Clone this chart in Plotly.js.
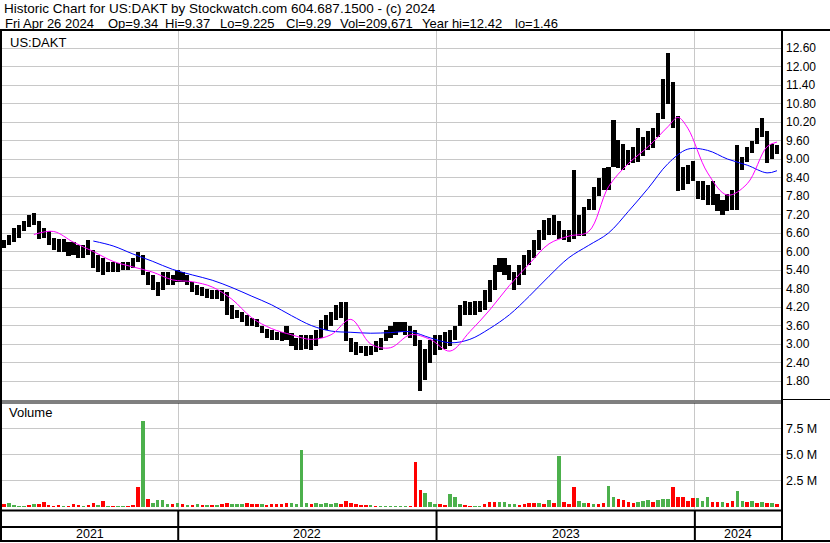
<!DOCTYPE html>
<html><head><meta charset="utf-8">
<script src="https://cdn.plot.ly/plotly-3.0.1.min.js"></script>
<style>html,body{margin:0;padding:0;background:#fff;overflow:hidden}#chart{width:830px;height:543px}</style>
</head><body><div id="chart"></div>
<script>
// ---- data (weekly samples, first week ending 2021-04-30) ----
const firstWeek = '2021-04-30';
const highs = [6.37,6.55,6.75,6.85,7.0,7.2,7.25,7.0,6.75,6.65,
6.45,6.4,6.4,6.3,6.3,6.2,6.2,6.37,6.05,5.9,
5.8,5.65,5.65,5.62,5.65,5.65,5.8,6.0,5.9,5.35,
5.25,5.0,5.35,5.35,5.25,5.4,5.35,5.25,5.0,4.9,
4.85,4.8,4.75,4.75,4.75,4.7,4.25,4.1,4.05,3.95,
3.85,3.8,3.6,3.5,3.45,3.4,3.4,3.6,3.35,3.2,
3.3,3.3,3.3,3.45,3.78,3.95,4.05,4.25,4.35,4.35,
3.2,3.05,2.95,2.95,2.95,3.1,3.2,3.45,3.6,3.7,
3.7,3.7,3.6,3.45,3.13,2.85,3.13,3.3,3.3,3.4,
3.45,3.6,4.25,4.4,4.35,4.4,4.4,4.75,5.08,5.55,
5.8,5.8,5.55,5.35,5.55,5.9,6.05,6.37,6.7,7.02,
7.1,7.2,7.0,6.7,6.7,8.64,7.2,7.45,7.7,8.1,
8.4,8.7,8.74,10.27,9.62,9.5,9.3,9.4,10.0,9.7,
9.9,10.0,10.5,11.6,12.44,11.5,10.4,8.75,8.8,8.95,
8.3,8.3,8.15,8.3,7.85,7.67,7.85,8.0,9.45,9.07,
9.4,9.6,10.0,10.33,9.9,9.5,9.45];
const lows = [6.1,6.2,6.3,6.45,6.65,6.8,6.85,6.4,6.45,6.2,
6.05,6.0,6.0,5.85,5.9,5.8,5.8,5.9,5.45,5.35,
5.25,5.35,5.35,5.35,5.4,5.4,5.45,5.65,5.25,4.9,
4.75,4.55,4.75,4.9,4.9,5.0,5.0,4.9,4.7,4.6,
4.55,4.5,4.45,4.45,4.4,3.95,3.8,3.85,3.7,3.6,
3.6,3.55,3.35,3.2,3.13,3.13,3.1,3.13,2.95,2.8,
2.8,2.85,2.8,2.95,3.2,3.45,3.6,3.78,3.85,3.1,
2.75,2.65,2.7,2.6,2.65,2.75,2.8,3.1,3.2,3.3,
3.4,3.3,3.2,2.95,1.46,1.83,2.4,2.65,2.8,2.85,
2.95,3.13,3.6,3.95,3.95,3.95,4.05,4.1,4.35,4.75,
5.35,5.25,5.08,4.75,4.9,5.25,5.55,5.8,6.05,6.37,
6.55,6.55,6.4,6.37,6.3,6.4,6.5,6.5,7.35,7.35,
7.8,8.0,8.0,8.74,8.7,8.64,8.8,8.87,8.9,9.1,
9.3,9.35,9.7,10.3,10.8,10.0,7.95,8.0,8.2,8.3,
7.7,7.67,7.5,7.5,7.3,7.2,7.3,7.35,7.35,8.65,
8.9,9.2,9.5,9.7,8.87,9.0,9.15];
// weekly volume, millions of shares
const volumes = [0.3,0.4,0.15,0.1,0.1,0.15,0.3,0.25,0.45,0.15,
0.1,0.15,0.1,0.1,0.3,0.15,0.1,0.15,0.4,0.15,
0.6,0.1,0.1,0.1,0.05,0.1,0.15,1.9,8.3,0.8,
0.35,0.7,0.7,0.3,0.3,0.35,0.3,0.2,0.2,0.25,
0.2,0.2,0.2,0.2,0.25,0.4,0.3,0.25,0.3,0.35,
0.3,0.3,0.3,0.2,0.25,0.3,0.3,0.35,0.35,0.3,
5.5,0.35,0.3,0.35,0.3,0.35,0.3,0.4,0.3,0.6,
0.4,0.25,0.2,0.2,0.15,0.1,0.1,0.1,0.1,0.08,
0.1,0.1,0.1,4.3,1.6,1.3,0.5,0.3,0.3,0.2,
1.2,1.0,0.3,0.2,0.1,0.1,0.05,0.3,0.45,0.5,
0.45,0.5,0.3,0.3,0.2,0.3,0.4,0.35,0.4,0.3,
0.7,0.4,4.9,0.5,0.3,1.9,0.6,0.4,0.35,0.3,
0.3,0.35,2.0,1.0,0.8,0.7,0.5,0.4,0.5,0.55,
0.7,0.45,0.7,0.8,0.8,1.9,1.0,1.0,0.6,0.9,
0.9,0.6,1.0,0.5,0.5,0.5,0.4,0.6,1.5,0.6,
0.5,0.6,0.4,0.5,0.4,0.35,0.25];
const volColors = 'rggggrgrrrrrgrrrgrrgrgrggrrrgrggggrgrgrgrgrgrrggg' +
 'rrrgrrrrrggggrgggggrrrrrrgrggggggrrrgggrrgggrrggrrrg' +
 'gggrrrrgrgrgrrrggrgrrggrrrrgggrgggrrrrrgggrrgrrggrgrgrgrr';
// moving averages (week index, value)
const magIdx  = [6,10,14,18,22,26,30,34,38,42,46,50,54,58,62,66,70,74,78,82,86,90,94,98,102,106,110,114,118,122,126,130,134,136,138,142,146,150,154,156];
const magVals = [6.55,6.65,6.3,6.0,5.68,5.5,5.33,5.08,5.02,4.85,4.45,3.85,3.5,3.3,3.15,3.3,3.8,3.0,2.88,3.3,3.15,2.77,3.4,4.1,4.9,5.6,6.25,6.5,6.65,8.1,8.85,9.4,10.05,10.35,10.0,8.55,7.83,8.2,9.4,9.55];
const blueIdx  = [18,22,26,30,34,38,42,46,50,54,58,62,66,70,74,78,82,86,90,94,98,102,106,110,114,118,122,126,130,134,138,142,146,150,154,156];
const blueVals = [6.34,6.18,5.92,5.68,5.42,5.24,5.07,4.83,4.55,4.27,3.92,3.6,3.42,3.38,3.35,3.37,3.4,3.2,3.04,3.15,3.5,3.95,4.55,5.2,5.8,6.2,6.6,7.3,8.05,8.85,9.32,9.28,9.0,8.8,8.55,8.62];
const priceTicks = [1.8,2.4,3.0,3.6,4.2,4.8,5.4,6.0,6.6,7.2,7.8,8.4,9.0,9.6,10.2,10.8,11.4,12.0,12.6];
const volTicks = [2.5,5.0,7.5];
const volTickText = ['2.5 M','5.0 M','7.5 M'];
const yearLabels = ['2021','2022','2023','2024'];
const yearStarts = ['2022-01-01','2023-01-01','2024-01-01'];
const headerLine1 = 'Historic Chart for US:DAKT by Stockwatch.com 604.687.1500 - (c) 2024';
const headerItems = ['Fri Apr 26 2024','Op=9.34','Hi=9.37','Lo=9.225','Cl=9.29','Vol=209,671','Year hi=12.42','lo=1.46'];
const headerItemX = [3,106,163,218,284,338,420,513];

// ---- build ----
const DAY = 86400000;
const t0 = Date.parse(firstWeek + 'T00:00:00Z');
const dates = highs.map((_, i) => new Date(t0 + i * 7 * DAY).toISOString().slice(0, 10));
const xRange = ['2021-04-27', '2024-05-01 17:00'];
const W = 830, H = 543;
const px = x => x / W, py = y => 1 - y / H;
const FONT = 'Liberation Sans, Arial, sans-serif';
const colorMap = {g: '#4cb04c', r: '#ff0000'};

const traces = [
  {type: 'bar', x: dates, base: lows, y: highs.map((h, i) => h - lows[i]), width: 5.8 * DAY,
   marker: {color: '#000000', line: {width: 0}}, xaxis: 'x', yaxis: 'y', hoverinfo: 'skip'},
  {type: 'scatter', mode: 'lines', x: blueIdx.map(i => dates[i]), y: blueVals,
   line: {color: '#0000ff', width: 1, shape: 'spline'}, xaxis: 'x', yaxis: 'y'},
  {type: 'scatter', mode: 'lines', x: magIdx.map(i => dates[i]), y: magVals,
   line: {color: '#ff00ff', width: 1, shape: 'spline'}, xaxis: 'x', yaxis: 'y'},
  {type: 'bar', x: dates, y: volumes, width: 5 * DAY,
   marker: {color: volumes.map((_, i) => colorMap[volColors[i]] || '#4cb04c'), line: {width: 0}},
   xaxis: 'x2', yaxis: 'y2'}
];

const grid = '#c8c8c8';
const xCommon = {type: 'date', range: xRange, domain: [px(2), px(781)], tickmode: 'array', tickvals: yearStarts,
  showticklabels: false, ticks: '', showgrid: true, gridcolor: grid, gridwidth: 1, zeroline: false, showline: false, fixedrange: true};

const bounds = [Date.parse(xRange[0] + 'T00:00:00Z')].concat(yearStarts.map(d => Date.parse(d + 'T00:00:00Z')), [Date.parse('2024-05-01T17:00:00Z')]);
const annotations = yearLabels.map((lab, k) => ({
  text: lab, x: new Date((bounds[k] + bounds[k + 1]) / 2).toISOString().replace('T', ' ').slice(0, 19),
  xref: 'x', y: py(534), yref: 'paper', xanchor: 'center', yanchor: 'middle', showarrow: false,
  font: {family: FONT, size: 12.5, color: '#000'}
}));
annotations.push({text: headerLine1, x: px(2), y: py(8.5), xref: 'paper', yref: 'paper', xanchor: 'left', yanchor: 'middle', showarrow: false, font: {family: FONT, size: 13.5, color: '#000'}});
headerItems.forEach((t, k) => annotations.push({text: t, x: px(headerItemX[k]), y: py(23), xref: 'paper', yref: 'paper', xanchor: 'left', yanchor: 'middle', showarrow: false, font: {family: FONT, size: 13, color: '#000'}}));
annotations.push(
  {text: 'US:DAKT', x: px(8), y: py(42), xref: 'paper', yref: 'paper', xanchor: 'left', yanchor: 'middle', showarrow: false, font: {family: FONT, size: 13, color: '#000'}},
  {text: 'Volume', x: px(7), y: py(413), xref: 'paper', yref: 'paper', xanchor: 'left', yanchor: 'middle', showarrow: false, font: {family: FONT, size: 13, color: '#000'}}
);

const L = (x0, y0, x1, y1, w) => ({type: 'line', xref: 'paper', yref: 'paper', x0: px(x0), y0: py(y0), x1: px(x1), y1: py(y1), line: {color: '#000', width: w}, layer: 'above'});
const shapes = [
  L(0, 30, W, 30, 2),
  L(1, 30, 1, 541, 2),
  L(782, 30, 782, 541, 2),
  L(0, 401, 782, 401, 1),
  L(0, 403, 782, 403, 1),
  L(782, 399.5, W, 399.5, 1),
  L(0, 510.5, 782, 510.5, 2),
  L(0, 527, 782, 527, 2),
  L(0, 541, W, 541, 2)
];
yearStarts.forEach(d => shapes.push({type: 'line', xref: 'x', yref: 'paper', x0: d, x1: d, y0: py(510), y1: py(541), line: {color: '#000', width: 2}, layer: 'above'}));

const layout = {
  width: W, height: H, margin: {l: 0, r: 0, t: 0, b: 0}, paper_bgcolor: '#fff', plot_bgcolor: '#fff',
  showlegend: false, barmode: 'overlay', bargap: 0,
  font: {family: FONT, size: 12, color: '#000'},
  xaxis: Object.assign({anchor: 'y'}, xCommon),
  xaxis2: Object.assign({anchor: 'y2', matches: 'x'}, xCommon),
  yaxis: {domain: [py(400), py(31)], range: [1.184, 13.152], side: 'right', anchor: 'x', tickmode: 'array',
    tickvals: priceTicks, ticktext: priceTicks.map(v => v.toFixed(2)), ticks: '', ticklabelstandoff: 4,
    tickfont: {family: FONT, size: 12, color: '#000'}, showgrid: true, gridcolor: grid, gridwidth: 1, zeroline: false, showline: false, fixedrange: true},
  yaxis2: {domain: [py(509), py(403)], range: [-0.2, 9.99], side: 'right', anchor: 'x2', tickmode: 'array',
    tickvals: volTicks, ticktext: volTickText, ticks: '', ticklabelstandoff: 4,
    tickfont: {family: FONT, size: 12.5, color: '#000'}, showgrid: true, gridcolor: grid, gridwidth: 1, zeroline: false, showline: false, fixedrange: true},
  annotations: annotations,
  shapes: shapes
};

Plotly.newPlot('chart', traces, layout, {staticPlot: true, displayModeBar: false});
</script>
</body></html>
